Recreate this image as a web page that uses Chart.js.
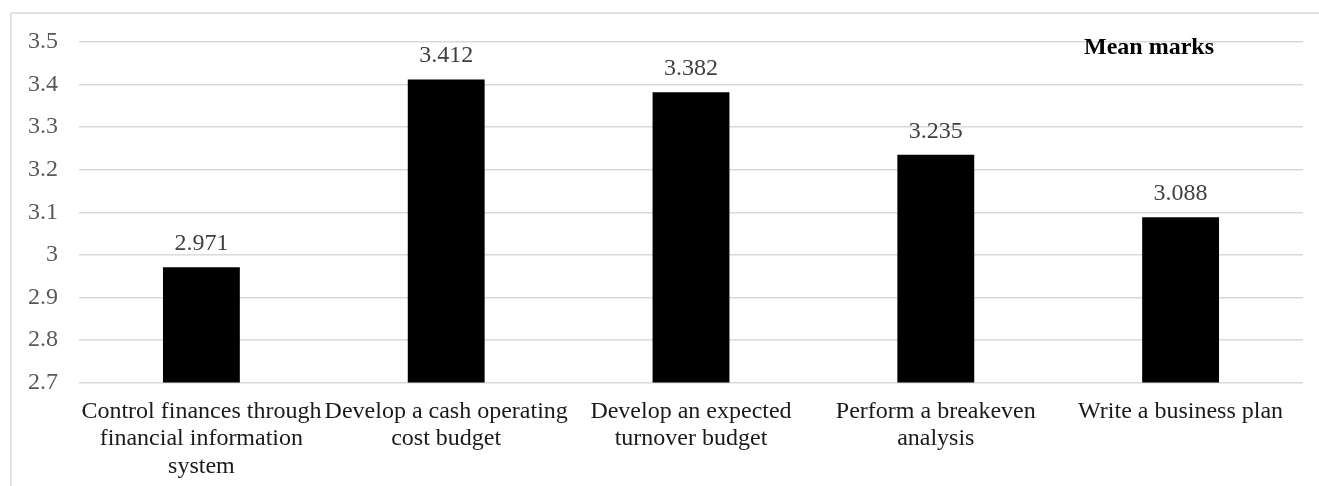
<!DOCTYPE html>
<html>
<head>
<meta charset="utf-8">
<title>Mean marks</title>
<script src="https://cdn.jsdelivr.net/npm/chart.js@4.4.0/dist/chart.umd.min.js"></script>
<style>
  html, body { margin: 0; padding: 0; background: #fff; }
  #wrap { width: 1319px; height: 486px; position: relative; }
</style>
</head>
<body>
<div id="wrap"><canvas id="meanChart"></canvas></div>
<script>
// Chart data
const categories = [
    ['Control finances through', 'financial information', 'system'],
    ['Develop a cash operating', 'cost budget'],
    ['Develop an expected', 'turnover budget'],
    ['Perform a breakeven', 'analysis'],
    'Write a business plan'
];
const meanMarks = [2.971, 3.412, 3.382, 3.235, 3.088];
const seriesName = 'Mean marks';
const yMin = 2.7;
const yMax = 3.5;
const yStep = 0.1;

const FONT = "'Liberation Serif', 'Times New Roman', serif";

// Light frame around the chart (cut off at right and bottom like the source)
const framePlugin = {
    id: 'frame',
    beforeDraw(chart) {
        const ctx = chart.ctx;
        ctx.save();
        ctx.strokeStyle = '#d9d9d9';
        ctx.lineWidth = 1.5;
        ctx.strokeRect(11, 13, chart.width + 20, chart.height + 20);
        ctx.restore();
    }
};

// Value labels above each bar
const valueLabelPlugin = {
    id: 'valueLabels',
    afterDatasetsDraw(chart) {
        const ctx = chart.ctx;
        const meta = chart.getDatasetMeta(0);
        const values = chart.data.datasets[0].data;
        ctx.save();
        ctx.font = '24px ' + FONT;
        ctx.fillStyle = '#404040';
        ctx.textAlign = 'center';
        ctx.textBaseline = 'alphabetic';
        meta.data.forEach((bar, i) => {
            ctx.fillText(values[i].toFixed(3), bar.x, bar.y - 17);
        });
        ctx.restore();
    }
};

// Series name drawn inside the plot, top right
const seriesNamePlugin = {
    id: 'seriesName',
    afterDraw(chart) {
        const area = chart.chartArea;
        const ctx = chart.ctx;
        ctx.save();
        ctx.font = 'bold 24px ' + FONT;
        ctx.fillStyle = '#000';
        ctx.textAlign = 'center';
        ctx.textBaseline = 'middle';
        ctx.fillText(chart.data.datasets[0].label, area.right - 154, area.top + 6);
        ctx.restore();
    }
};

document.addEventListener('DOMContentLoaded', function() {
    const ctx = document.getElementById('meanChart');
    new Chart(ctx, {
        type: 'bar',
        data: {
            labels: categories,
            datasets: [{
                label: seriesName,
                data: meanMarks,
                backgroundColor: '#000000',
                borderWidth: 0,
                barPercentage: 0.314,
                categoryPercentage: 1.0
            }]
        },
        options: {
            responsive: true,
            maintainAspectRatio: false,
            animation: false,
            layout: {
                padding: { top: 42, right: 16, bottom: 0, left: 0 }
            },
            plugins: {
                legend: { display: false },
                title: { display: false },
                tooltip: { enabled: false }
            },
            scales: {
                x: {
                    grid: { display: false, drawTicks: false },
                    border: { display: false },
                    ticks: {
                        color: '#1a1a1a',
                        font: { family: FONT, size: 24, lineHeight: 1.15 },
                        padding: 15,
                        maxRotation: 0,
                        autoSkip: false
                    },
                    afterFit(scale) {
                        scale.height = 103.5;
                    }
                },
                y: {
                    min: yMin,
                    max: yMax,
                    grid: { color: '#d9d9d9', lineWidth: 1.5, drawTicks: false },
                    border: { display: false },
                    ticks: {
                        stepSize: yStep,
                        color: '#595959',
                        font: { family: FONT, size: 24 },
                        padding: 21,
                        callback: function(value) {
                            return String(+value.toFixed(1));
                        }
                    },
                    afterFit(scale) {
                        scale.width = 79;
                    }
                }
            }
        },
        plugins: [framePlugin, valueLabelPlugin, seriesNamePlugin]
    });
});
</script>
</body>
</html>
